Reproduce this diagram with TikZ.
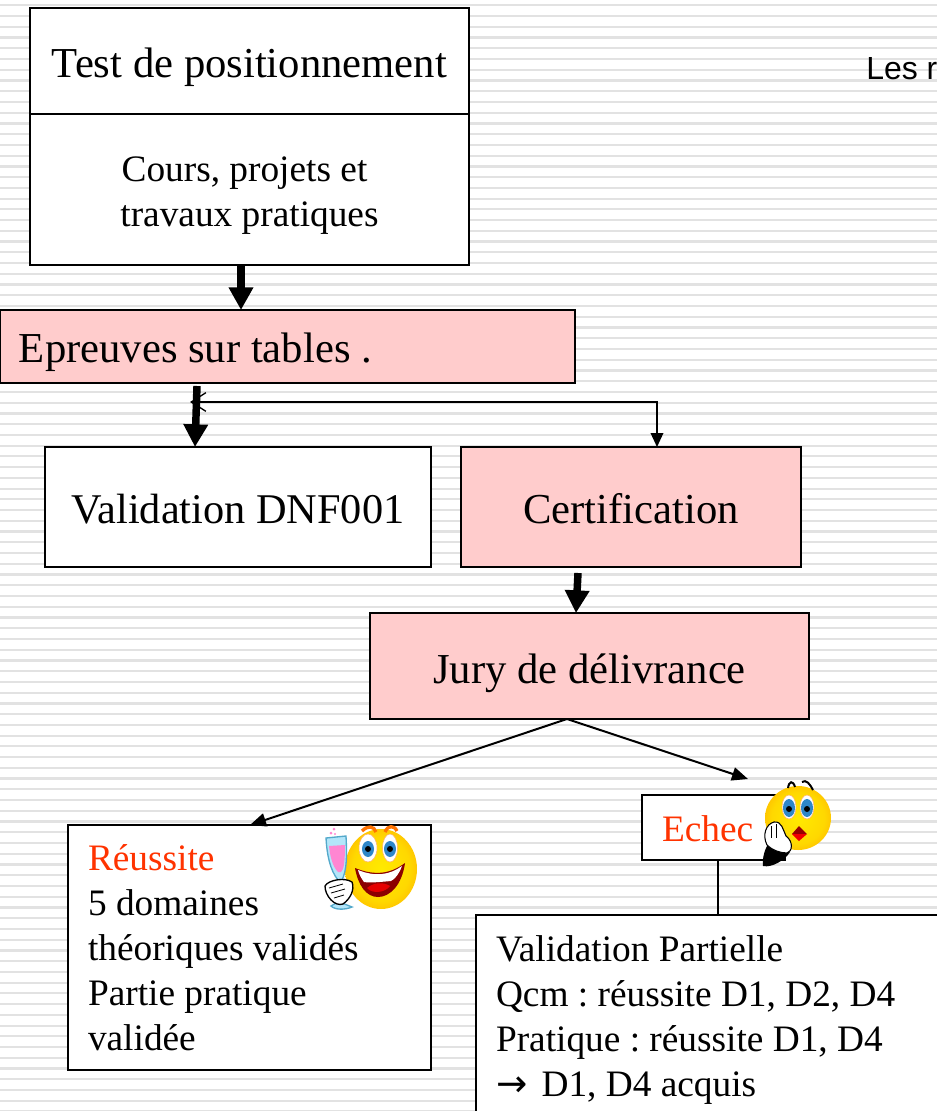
\documentclass[tikz,border=0pt]{standalone}
\usepackage{fontspec}
\setmainfont{Liberation Serif}
\setsansfont{Liberation Sans}
\newfontfamily\arrowfont{DejaVu Sans}
\usetikzlibrary{arrows.meta}
\definecolor{stripe}{HTML}{E2E2E2}
\definecolor{pinkbox}{HTML}{FFCCCC}
\definecolor{redtext}{HTML}{FF3300}
\definecolor{facea}{HTML}{FFEA00}
\definecolor{faceb}{HTML}{FFD800}
\definecolor{facec}{HTML}{FFB800}
\definecolor{faced}{HTML}{FF8C00}
\definecolor{irisblue}{HTML}{2E86C8}
\newcommand{\fbig}{\fontsize{32}{38}\selectfont}
\newcommand{\fmid}{\fontsize{28}{33.75}\selectfont}
\pgfdeclareradialshading{faceshade}{\pgfpoint{0bp}{0bp}}{color(0bp)=(facea); color(20bp)=(faceb); color(30bp)=(facec); color(36bp)=(faced); color(100bp)=(faced)}

\begin{document}
\frenchspacing
\begin{tikzpicture}[x=0.75pt, y=-0.75pt,
    box/.style={draw=black, line width=1.5pt, fill=white, anchor=north west, inner sep=0pt, outer sep=0pt, align=center, font=\fmid},
    pinkfill/.style={fill=pinkbox},
    leftbox/.style={box, align=flush left},
    oneline/.style={text depth=0pt, text height=#1},
    bigarrow/.style={line width=5.6pt, -{Triangle[width=17.5pt, length=17pt]}},
    thinarrow/.style={line width=1.5pt, -{Triangle[width=10pt, length=12pt]}},
    smallarrow/.style={line width=1pt, {Straight Barb[width=14pt, length=11pt]}-{Triangle[width=9.5pt, length=10.5pt]}},
  ]
  \useasboundingbox (0,0) rectangle (937,1111);
  \clip (0,0) rectangle (937,1111);
  \fill[white] (0,0) rectangle (937,1111);
  \foreach \k in {0,...,103}
    \fill[stripe] (0,{4.2+10.74*\k}) rectangle (937,{6.4+10.74*\k});

  \node[font=\sffamily\fontsize{24}{28}\selectfont, anchor=base west, inner sep=0pt] (les) at (866,79) {Les r};

  \node (test) [box, font=\fbig, oneline=24pt, minimum width=439*.75pt, minimum height=106*.75pt] at (30,8) {Test de positionnement};
  \node (cours) [box, minimum width=439*.75pt, minimum height=151*.75pt] at (30,114) {\rule{0pt}{28.1pt}Cours, projets et\hspace*{7.5pt}\\travaux pratiques};
  \node (epreuves) [leftbox, pinkfill, font=\fbig, oneline=24pt, minimum width=575*.75pt, minimum height=73*.75pt, text width=575*.75pt] at (0,310) {\hspace*{14.2pt}Epreuves sur tables .};
  \node (valid) [box, font=\fontsize{31.75}{38}\selectfont, oneline=24.75pt, minimum width=386*.75pt, minimum height=120*.75pt] at (45,447) {Validation DNF001};
  \node (certif) [box, pinkfill, font=\fbig, oneline=24.75pt, minimum width=340*.75pt, minimum height=120*.75pt] at (461,447) {Certification};
  \node (jury) [box, pinkfill, font=\fbig, oneline=25.5pt, minimum width=439*.75pt, minimum height=106*.75pt] at (370,613) {Jury de délivrance};
  \node (echec) [leftbox, text=redtext, oneline=20.25pt, minimum width=143*.75pt, minimum height=65*.75pt, text width=103*.75pt, inner xsep=20*.75pt] at (642,795) {Echec};
  \node (reussite) [leftbox, minimum width=363*.75pt, minimum height=245*.75pt, text width=323*.75pt, inner xsep=19.5*.75pt] at (68,825) {\textcolor{redtext}{Réussite}\\5 domaines\\théoriques validés\\Partie pratique\\validée};
  \node (partielle) [leftbox, text width=480*.75pt, inner xsep=20*.75pt, inner ysep=15.4pt] at (476,915) {Validation Partielle\\Qcm : réussite D1, D2, D4\\Pratique : réussite D1, D4\\{\arrowfont →}\hspace{3.7pt} D1, D4 acquis};

  \coordinate (xa) at (241,0);
  \coordinate (xd) at (657,0);
  \coordinate (xc) at (567,0);
  \coordinate (xe) at (250,0);
  \coordinate (xf) at (718,0);
  \coordinate (xb) at (576,0);
  \coordinate (backend) at (190,402);
  \coordinate (backturn) at (657,402);
  \coordinate (failend) at (748,779);
  \coordinate (epstart) at (197,386);
  \coordinate (epend) at (195,447);
  \coordinate (cestart) at (578,573);

  \draw[bigarrow] (cours.south -| xa) -- (epreuves.north -| xa);
  \draw[bigarrow] (epstart) -- (epend);
  \draw[smallarrow] (backend) -- (backturn) -- (certif.north -| xd);
  \draw[bigarrow] (cestart) -- (jury.north -| xb);
  \draw[thinarrow] (jury.south -| xc) -- (reussite.north -| xe);
  \draw[thinarrow] (jury.south -| xc) -- (failend);
  \draw[line width=1.5pt] (echec.south -| xf) -- (partielle.north -| xf);

  % happy face
  \shade[shading=faceshade] (381,869) ellipse (36 and 40);
  \draw[orange!90!red, line width=2.5pt] (362,831) .. controls (368,825) and (374,826) .. (376,832);
  \draw[orange!90!red, line width=2.5pt] (385,832) .. controls (388,825) and (394,825) .. (397,831);
  \fill[white, draw=orange!60, line width=.4pt] (368,848) ellipse (9 and 14);
  \fill[white, draw=orange!60, line width=.4pt] (390,848) ellipse (7.5 and 14);
  \fill[irisblue] (368,849) ellipse (6 and 8);
  \fill[irisblue] (390,849) ellipse (6 and 8);
  \fill[black] (368,849) circle (3);
  \fill[black] (390,849) circle (3);
  \fill[red!55!black] (355,868) .. controls (375,876) and (390,874) .. (405,863) .. controls (402,885) and (390,897) .. (378,897) .. controls (366,897) and (358,885) .. (355,868) -- cycle;
  \fill[white] (358,870) .. controls (375,877) and (390,875) .. (402,866) .. controls (399,874) and (395,879) .. (391,881) .. controls (380,882) and (370,883) .. (364,882) .. controls (361,878) and (359,874) .. (358,870) -- cycle;
  \fill[red!90!black] (367,888) .. controls (374,882) and (384,882) .. (390,886) .. controls (385,893) and (372,894) .. (367,888) -- cycle;
  % glass
  \draw[cyan!60!gray, fill=cyan!30, line width=1pt] (326,838) -- (346,836) .. controls (347,855) and (347,870) .. (342,880) -- (342,903) -- (352,907) .. controls (345,910) and (335,910) .. (331,906) -- (338,902) -- (338,880) .. controls (330,870) and (327,855) .. (326,838) -- cycle;
  \fill[pink!70!magenta] (329,846) -- (345,845) .. controls (345,860) and (344,870) .. (341,872) -- (338,872) .. controls (332,866) and (330,855) .. (329,846) -- cycle;
  \fill[pink!70!magenta] (331,833) circle (1.5) (334,829) circle (1.5) (335,834) circle (1.2);
  \draw[black, fill=white, line width=1pt] (325,886) .. controls (328,880) and (345,877) .. (352,882) .. controls (355,890) and (350,899) .. (343,904) .. controls (335,907) and (325,896) .. (325,886) -- cycle;
  \draw[black, line width=.6pt] (329,888) -- (343,884) (331,893) -- (345,889) (334,898) -- (344,895);

  % worried face
  \shade[shading=faceshade] (798,818) ellipse (33 and 32);
  \draw[black, line width=1.5pt] (788,788) .. controls (789,781) and (793,780) .. (795,787);
  \draw[black, line width=1.5pt] (802,782) .. controls (806,779) and (810,784) .. (813,790);
  \fill[white, draw=orange!60, line width=.4pt] (789,807) ellipse (7 and 12);
  \fill[white, draw=orange!60, line width=.4pt] (807,807) ellipse (7 and 12);
  \fill[irisblue] (789,808) ellipse (6 and 9);
  \fill[irisblue] (807,808) ellipse (6 and 9);
  \fill[black] (789,809) circle (3);
  \fill[black] (807,809) circle (3);
  \fill[red!60!black] (799,826) -- (807,834) -- (792,834) -- cycle;
  \fill[red!95!black] (792,834) -- (807,834) -- (799,841) -- cycle;
  \fill[black] (763,866) .. controls (762,858) and (765,848) .. (769,843) -- (790,852) .. controls (785,860) and (772,868) .. (763,866) -- cycle;
  \draw[black, fill=white, line width=.8pt] (767,845) .. controls (762,835) and (766,824) .. (774,822) .. controls (782,821) and (783,830) .. (786,836) .. controls (794,842) and (792,852) .. (787,853) .. controls (780,853) and (772,850) .. (767,845) -- cycle;
  \draw[black, line width=.5pt] (771,826) -- (771,838) (776,824) -- (776,838);
\end{tikzpicture}
\end{document}
